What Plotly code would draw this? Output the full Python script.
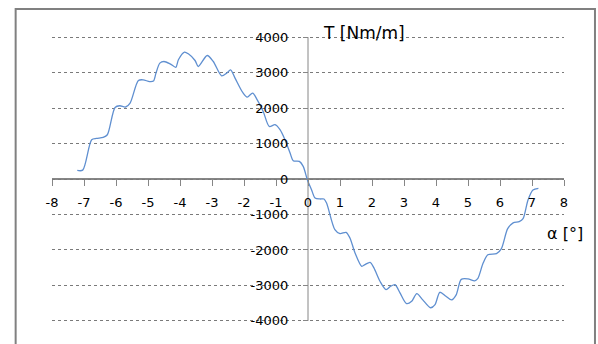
import plotly.graph_objects as go

# Data
alpha_deg = [-7.21, -7.04, -6.76, -6.61, -6.40, -6.27, -6.03, -5.88, -5.70, -5.56,
             -5.30, -5.15, -4.95, -4.83, -4.75, -4.63, -4.50, -4.31, -4.13, -4.05,
             -3.86, -3.74, -3.53, -3.43, -3.15, -2.96, -2.70, -2.54, -2.42, -2.28,
             -2.04, -1.90, -1.73, -1.60, -1.40, -1.21, -1.03, -0.875, -0.72, -0.56,
             -0.46, -0.27, -0.15, -0.02, 0.11, 0.22, 0.375, 0.50, 0.58, 0.84,
             1.00, 1.19, 1.31, 1.47, 1.68, 1.78, 1.94, 2.06, 2.25, 2.44,
             2.58, 2.72, 2.875, 3.08, 3.24, 3.40, 3.58, 3.83, 3.97, 4.12,
             4.31, 4.49, 4.63, 4.79, 5.00, 5.21, 5.31, 5.47, 5.62, 5.89,
             6.04, 6.24, 6.41, 6.60, 6.72, 6.875, 7.03, 7.20]
torque = [242, 250, 1107, 1144, 1175, 1248, 2017, 2065, 2030, 2141,
          2778, 2797, 2745, 2760, 2986, 3268, 3313, 3248, 3150, 3361,
          3578, 3530, 3341, 3172, 3482, 3313, 2910, 2986, 3079, 2845,
          2440, 2310, 2423, 2254, 1905, 1482, 1530, 1389, 1107, 732,
          515, 496, 355, -20, -301, -535, -563, -563, -676, -1428,
          -1541, -1504, -1662, -2085, -2462, -2414, -2349, -2507, -2884, -3118,
          -3025, -2977, -3211, -3513, -3448, -3231, -3400, -3630, -3541, -3194,
          -3307, -3409, -3268, -2830, -2817, -2870, -2800, -2377, -2135, -2104,
          -1970, -1400, -1236, -1200, -1120, -592, -310, -265]

x_ticks = list(range(-8, 9))
y_ticks = list(range(-4000, 4001, 1000))

FONT = "DejaVu Sans"

fig = go.Figure()
fig.add_trace(go.Scatter(
    x=alpha_deg, y=torque, mode="lines",
    line=dict(color="#5f8fd0", width=1.3, shape="spline", smoothing=0.8),
    showlegend=False, hoverinfo="skip",
))

fig.update_layout(
    width=598, height=344,
    margin=dict(l=52, r=34, t=35, b=21),
    paper_bgcolor="white", plot_bgcolor="white",
    font=dict(family=FONT, size=13, color="#000000"),
    xaxis=dict(
        range=[-8, 8], tickvals=x_ticks, ticktext=[str(v) for v in x_ticks],
        anchor="free", position=0.5,
        showgrid=False, zeroline=False,
        showline=False,
        ticks="outside", ticklen=6, tickcolor="#868686", tickwidth=1,
        tickfont=dict(family=FONT, size=13, color="#000000"),
        ticklabelstandoff=5,
    ),
    yaxis=dict(
        range=[-4060, 4060], tickvals=y_ticks, ticktext=[str(v) for v in y_ticks],
        anchor="free", position=0.5,
        showgrid=True, gridcolor="#7a7a7a", griddash="dot", gridwidth=1,
        zeroline=False,
        showline=False,
        ticks="outside", ticklen=5, tickcolor="#868686", tickwidth=1,
        tickfont=dict(family=FONT, size=13, color="#000000"),
        ticklabelstandoff=12,
    ),
    shapes=[
        dict(type="rect", xref="paper", yref="paper",
             x0=-0.071, x1=1.0605, y0=-0.2, y1=1.09,
             line=dict(color="#808080", width=2), fillcolor="rgba(0,0,0,0)",
             layer="below"),
        dict(type="line", xref="x", yref="y", x0=0, x1=0, y0=y_ticks[0], y1=y_ticks[-1],
             line=dict(color="#868686", width=1), layer="below"),
        dict(type="line", xref="x", yref="y", x0=x_ticks[0], x1=x_ticks[-1], y0=0, y1=0,
             line=dict(color="#868686", width=2), layer="below"),
    ],
    annotations=[
        dict(text="T [Nm/m]", xref="paper", yref="paper", x=0.525, y=1.006,
             xanchor="left", yanchor="middle", showarrow=False,
             font=dict(family=FONT, size=17, color="#000000")),
        dict(text="α [°]", xref="paper", yref="paper", x=0.963, y=0.31,
             xanchor="left", yanchor="middle", showarrow=False,
             font=dict(family=FONT, size=16, color="#000000")),
    ],
)

fig.write_html("out.html")
